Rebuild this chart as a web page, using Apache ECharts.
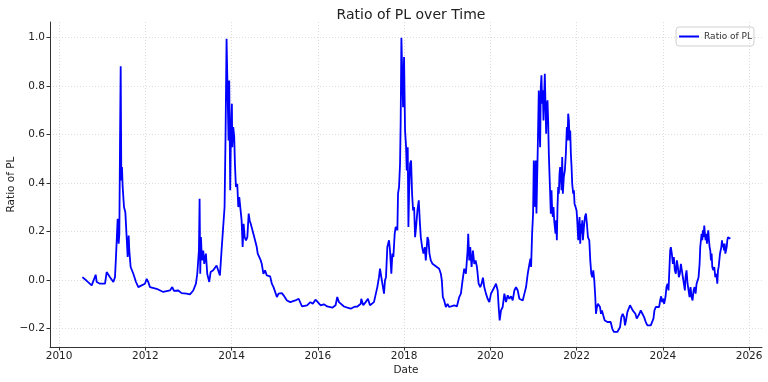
<!DOCTYPE html>
<html>
<head>
<meta charset="utf-8">
<script src="https://cdn.jsdelivr.net/npm/echarts@6/dist/echarts.min.js"></script>
<style>
  html, body { margin: 0; padding: 0; background: #fff; }
  #chart { width: 768px; height: 382px; }
</style>
</head>
<body>
<div id="chart"></div>
<script>
// decimal years and the ratio
var dates = [
    2010.541, 2010.641, 2010.757, 2010.849, 2010.873, 2010.950, 2011.066, 2011.104, 2011.181, 2011.259,
    2011.297, 2011.320, 2011.359, 2011.382, 2011.398, 2011.413, 2011.429, 2011.444, 2011.459, 2011.475,
    2011.506, 2011.537, 2011.568, 2011.591, 2011.614, 2011.629, 2011.660, 2011.722, 2011.784, 2011.838,
    2011.915, 2011.954, 2011.992, 2012.031, 2012.069, 2012.108, 2012.263, 2012.417, 2012.571, 2012.625,
    2012.664, 2012.764, 2012.842, 2012.958, 2013.035, 2013.112, 2013.174, 2013.205, 2013.243, 2013.259,
    2013.274, 2013.290, 2013.313, 2013.344, 2013.367, 2013.405, 2013.436, 2013.483, 2013.514, 2013.575,
    2013.653, 2013.691, 2013.730, 2013.768, 2013.807, 2013.838, 2013.861, 2013.884, 2013.915, 2013.930,
    2013.946, 2013.969, 2013.985, 2014.008,
    2014.016, 2014.039, 2014.062, 2014.078, 2014.101, 2014.132, 2014.156, 2014.179, 2014.210, 2014.233,
    2014.257, 2014.280, 2014.304, 2014.335, 2014.366, 2014.397, 2014.420, 2014.444, 2014.475, 2014.506,
    2014.545, 2014.584, 2014.607, 2014.646, 2014.677, 2014.700, 2014.739, 2014.778, 2014.817, 2014.856,
    2014.895, 2014.934, 2014.973, 2015.019, 2015.051, 2015.089, 2015.128, 2015.167, 2015.206, 2015.284,
    2015.362, 2015.479, 2015.556, 2015.634, 2015.751, 2015.829, 2015.883, 2015.946, 2016.000, 2016.062,
    2016.140, 2016.218, 2016.335, 2016.412, 2016.451, 2016.490, 2016.529, 2016.607, 2016.685, 2016.763,
    2016.840, 2016.918, 2016.996,
    2017.008, 2017.054, 2017.109, 2017.163, 2017.209, 2017.240, 2017.302, 2017.341, 2017.380, 2017.419,
    2017.442, 2017.473, 2017.512, 2017.535, 2017.558, 2017.581, 2017.612, 2017.651, 2017.674, 2017.705,
    2017.729, 2017.752, 2017.783, 2017.806, 2017.845, 2017.860, 2017.884, 2017.907, 2017.922, 2017.938,
    2017.961, 2017.977, 2018.000, 2018.023, 2018.047, 2018.062, 2018.085, 2018.101, 2018.116, 2018.140,
    2018.163, 2018.186, 2018.209, 2018.233, 2018.256, 2018.279, 2018.310, 2018.341, 2018.364, 2018.388,
    2018.419, 2018.450, 2018.481, 2018.504, 2018.543, 2018.566, 2018.589, 2018.620, 2018.659, 2018.698,
    2018.760, 2018.814, 2018.853, 2018.876, 2018.899, 2018.930, 2018.969, 2019.008, 2019.047, 2019.085,
    2019.163, 2019.225, 2019.279, 2019.318, 2019.357, 2019.395, 2019.434, 2019.473, 2019.488, 2019.512,
    2019.535, 2019.566, 2019.597, 2019.628, 2019.659, 2019.690, 2019.729, 2019.767, 2019.798, 2019.829,
    2019.860, 2019.899, 2019.938, 2019.977, 2020.016, 2020.054, 2020.093, 2020.132, 2020.171, 2020.194,
    2020.217, 2020.248, 2020.287, 2020.326, 2020.364, 2020.403, 2020.442, 2020.481, 2020.519, 2020.558,
    2020.597, 2020.636, 2020.674, 2020.713, 2020.752, 2020.791, 2020.829, 2020.868, 2020.907, 2020.930,
    2020.946, 2020.969, 2020.992, 2021.008,
    2021.023, 2021.039, 2021.054, 2021.070, 2021.085, 2021.101, 2021.124, 2021.140, 2021.155, 2021.171,
    2021.186, 2021.202, 2021.217, 2021.233, 2021.248, 2021.264, 2021.279, 2021.295, 2021.310, 2021.326,
    2021.341, 2021.357, 2021.372, 2021.388, 2021.403, 2021.419, 2021.434, 2021.450, 2021.465, 2021.481,
    2021.496, 2021.512, 2021.527, 2021.543, 2021.558, 2021.574, 2021.589, 2021.605, 2021.620, 2021.636,
    2021.651, 2021.667, 2021.682, 2021.705, 2021.729, 2021.752, 2021.775, 2021.791, 2021.806, 2021.822,
    2021.837, 2021.853, 2021.868, 2021.884, 2021.899, 2021.922, 2021.938, 2021.953, 2021.977, 2022.000,
    2022.016, 2022.039, 2022.054, 2022.070, 2022.085, 2022.101, 2022.116, 2022.132, 2022.147, 2022.171,
    2022.194, 2022.217, 2022.240, 2022.264, 2022.295, 2022.318, 2022.341, 2022.364, 2022.388, 2022.411,
    2022.434, 2022.450, 2022.473, 2022.496, 2022.519, 2022.543, 2022.566, 2022.589, 2022.620, 2022.651,
    2022.682, 2022.713, 2022.752, 2022.791, 2022.829, 2022.868, 2022.907, 2022.946, 2022.984, 2023.008,
    2023.039, 2023.070, 2023.101, 2023.124, 2023.147, 2023.178, 2023.209, 2023.240, 2023.271, 2023.302,
    2023.333, 2023.364, 2023.395, 2023.426, 2023.457, 2023.488, 2023.527, 2023.566, 2023.605, 2023.643,
    2023.682, 2023.721, 2023.760, 2023.783, 2023.806, 2023.837, 2023.876, 2023.915, 2023.938, 2023.961,
    2023.984, 2024.008, 2024.031, 2024.062, 2024.085, 2024.109, 2024.132, 2024.155, 2024.171, 2024.186,
    2024.209, 2024.233, 2024.256, 2024.279, 2024.302, 2024.326, 2024.349, 2024.372, 2024.395, 2024.419,
    2024.442, 2024.465, 2024.488, 2024.512, 2024.527, 2024.550, 2024.574, 2024.597, 2024.620, 2024.643,
    2024.667, 2024.690, 2024.713, 2024.736, 2024.760, 2024.783, 2024.806, 2024.829, 2024.853, 2024.868,
    2024.884, 2024.899, 2024.915, 2024.930, 2024.946, 2024.961, 2024.977, 2024.992, 2025.008, 2025.023,
    2025.039, 2025.054, 2025.070, 2025.085, 2025.101, 2025.116, 2025.132, 2025.147, 2025.171, 2025.194,
    2025.217, 2025.240, 2025.264, 2025.279, 2025.295, 2025.310, 2025.326, 2025.341, 2025.357, 2025.372,
    2025.388, 2025.403, 2025.419, 2025.434, 2025.450, 2025.465, 2025.481, 2025.496, 2025.512, 2025.527,
    2025.550, 2025.566
];

var ratio = [
    0.012, -0.003, -0.022, 0.022, -0.008, -0.015, -0.015, 0.033, 0.012, -0.008,
    0.012, 0.095, 0.253, 0.150, 0.191, 0.555, 0.882, 0.411, 0.466, 0.384,
    0.301, 0.280, 0.274, 0.095, 0.184, 0.122, 0.054, 0.026, -0.008, -0.029,
    -0.022, -0.029, -0.015, 0.005, -0.008, -0.029, -0.036, -0.049, -0.043, -0.029,
    -0.045, -0.043, -0.054, -0.056, -0.059, -0.043, -0.015, 0.026, 0.122, 0.335,
    0.026, 0.177, 0.081, 0.122, 0.067, 0.109, 0.026, -0.008, 0.033, 0.040,
    0.060, 0.054, 0.019, 0.122, 0.122, 0.301, 0.597, 0.995, 0.995, 0.576,
    0.823, 0.370, 0.603, 0.727,
    0.548, 0.631, 0.590, 0.480, 0.384, 0.397, 0.301, 0.342, 0.287, 0.246,
    0.136, 0.232, 0.177, 0.164, 0.177, 0.274, 0.246, 0.232, 0.212, 0.191,
    0.164, 0.136, 0.109, 0.102, 0.081, 0.067, 0.026, 0.040, 0.019, 0.012,
    0.015, -0.015, -0.029, -0.036, -0.070, -0.056, -0.063, -0.054, -0.063, -0.084,
    -0.091, -0.084, -0.077, -0.109, -0.104, -0.091, -0.098, -0.081, -0.091, -0.104,
    -0.100, -0.109, -0.114, -0.104, -0.070, -0.091, -0.098, -0.109, -0.114, -0.118,
    -0.111, -0.109, -0.098,
    -0.077, -0.104, -0.091, -0.077, -0.104, -0.111, -0.091, -0.084, -0.029, 0.012,
    0.047, 0.012, 0.005, -0.056, -0.001, 0.012, 0.136, 0.164, 0.122, 0.026,
    0.109, 0.095, 0.191, 0.219, 0.205, 0.356, 0.384, 0.480, 0.658, 0.999,
    0.999, 0.713, 0.920, 0.617, 0.548, 0.452, 0.548, 0.219, 0.356, 0.480,
    0.493, 0.356, 0.287, 0.301, 0.177, 0.219, 0.287, 0.329, 0.246, 0.177,
    0.136, 0.109, 0.136, 0.081, 0.177, 0.164, 0.109, 0.081, 0.067, 0.074,
    0.054, 0.047, 0.026, -0.001, -0.070, -0.084, -0.111, -0.098, -0.111, -0.109,
    -0.104, -0.109, -0.070, -0.056, -0.001, 0.047, 0.026, 0.122, 0.191, 0.081,
    0.136, 0.054, 0.122, 0.067, 0.081, 0.054, -0.015, -0.029, -0.015, 0.010,
    -0.029, -0.056, -0.077, -0.091, -0.056, -0.043, -0.029, -0.015, -0.043, -0.111,
    -0.166, -0.125, -0.111, -0.056, -0.091, -0.063, -0.077, -0.067, -0.084, -0.043,
    -0.029, -0.043, -0.077, -0.084, -0.084, -0.056, -0.029, 0.026, 0.067, 0.088,
    0.054, 0.191, 0.274, 0.493,
    0.384, 0.301, 0.493, 0.274, 0.411, 0.548, 0.782, 0.631, 0.548, 0.796,
    0.844, 0.727, 0.782, 0.658, 0.755, 0.851, 0.727, 0.603, 0.713, 0.741,
    0.658, 0.521, 0.438, 0.356, 0.274, 0.370, 0.287, 0.260, 0.301, 0.246,
    0.219, 0.191, 0.246, 0.164, 0.301, 0.384, 0.356, 0.438, 0.466, 0.425,
    0.370, 0.507, 0.356, 0.425, 0.452, 0.521, 0.631, 0.576, 0.686, 0.658,
    0.576, 0.617, 0.521, 0.466, 0.397, 0.356, 0.370, 0.315, 0.301, 0.287,
    0.246, 0.164, 0.219, 0.260, 0.150, 0.232, 0.191, 0.246, 0.164, 0.219,
    0.260, 0.274, 0.232, 0.177, 0.164, 0.081, 0.026, 0.012, 0.040, -0.001,
    -0.070, -0.139, -0.111, -0.098, -0.091, -0.111, -0.139, -0.125, -0.146, -0.166,
    -0.159, -0.173, -0.166, -0.173, -0.201, -0.214, -0.208, -0.214, -0.214, -0.194,
    -0.153, -0.139, -0.153, -0.187, -0.166, -0.132, -0.125, -0.104, -0.111, -0.125,
    -0.132, -0.139, -0.159, -0.166, -0.139, -0.125, -0.139, -0.153, -0.173, -0.187,
    -0.194, -0.187, -0.180, -0.159, -0.125, -0.111, -0.104, -0.111, -0.084, -0.067,
    -0.091, -0.077, -0.098, -0.070, -0.029, -0.015, -0.043, 0.054, 0.122, 0.136,
    0.109, 0.067, 0.095, 0.040, 0.026, 0.081, 0.054, 0.012, 0.026, 0.067,
    0.040, 0.012, -0.015, -0.043, 0.012, 0.040, -0.015, -0.043, -0.070, -0.029,
    -0.070, -0.084, -0.043, -0.029, -0.056, -0.015, -0.008, 0.012, 0.067, 0.136,
    0.164, 0.191, 0.164, 0.205, 0.177, 0.225, 0.191, 0.164, 0.191, 0.150,
    0.177, 0.205, 0.164, 0.136, 0.122, 0.081, 0.109, 0.054, 0.040, 0.054,
    0.012, 0.026, -0.015, 0.040, 0.054, 0.081, 0.109, 0.122, 0.136, 0.164,
    0.136, 0.150, 0.122, 0.150, 0.109, 0.122, 0.136, 0.164, 0.177, 0.184,
    0.177, 0.170
];

var xTicks = [2010, 2012, 2014, 2016, 2018, 2020, 2022, 2024, 2026];
var yTicks = [-0.2, 0.0, 0.2, 0.4, 0.6, 0.8, 1.0];

var chart = echarts.init(document.getElementById('chart'));
var font = 'DejaVu Sans';
var gridLine = { show: true, lineStyle: { color: '#d4d4d4', width: 0.8, type: [1, 2] } };

var options = {
    animation: false,
    title: {
        text: 'Ratio of PL over Time',
        left: 406,
        textAlign: 'center',
        top: 3,
        textStyle: { fontFamily: font, fontSize: 14, fontWeight: 'normal', color: '#222' }
    },
    legend: {
        data: [{ name: 'Ratio of PL', icon: 'rect' }],
        right: 14,
        top: 27,
        padding: [5, 2, 5, 3],
        itemWidth: 20,
        itemHeight: 2,
        itemGap: 5,
        borderColor: '#d0d0d0',
        borderWidth: 1,
        borderRadius: 3,
        textStyle: { fontFamily: font, fontSize: 9, color: '#333' }
    },
    grid: { left: 50, right: 6, top: 22, bottom: 35, containLabel: false, outerBoundsMode: 'none' },
    xAxis: {
        type: 'value',
        min: 2009.79,
        max: 2026.3,
        name: 'Date',
        nameLocation: 'middle',
        nameGap: 18,
        nameMoveOverlap: false,
        nameTextStyle: { fontFamily: font, fontSize: 10.5, color: '#222' },
        axisLine: { onZero: false, lineStyle: { color: '#333', width: 1 } },
        axisTick: { show: true, length: 3.5, lineStyle: { color: '#333' }, customValues: xTicks },
        axisLabel: {
            customValues: xTicks,
            margin: 4,
            fontFamily: font, fontSize: 10.5, color: '#222',
            formatter: function (v) { return String(Math.round(v)); }
        },
        splitLine: gridLine
    },
    yAxis: {
        type: 'value',
        min: -0.276,
        max: 1.064,
        name: 'Ratio of PL',
        nameLocation: 'middle',
        nameRotate: 90,
        nameGap: 33,
        nameMoveOverlap: false,
        nameTextStyle: { fontFamily: font, fontSize: 10.5, color: '#222' },
        axisLine: { show: true, onZero: false, lineStyle: { color: '#333', width: 1 } },
        axisTick: { show: true, length: 3.5, lineStyle: { color: '#333' }, customValues: yTicks },
        axisLabel: {
            customValues: yTicks,
            margin: 5,
            fontFamily: font, fontSize: 10.5, color: '#222',
            formatter: function (v) { return v.toFixed(1).replace('-', '\u2212'); }
        },
        splitLine: gridLine
    },
    series: [
        {
            name: 'Ratio of PL',
            type: 'line',
            symbol: 'none',
            lineStyle: { color: '#0000ff', width: 1.8 },
            itemStyle: { color: '#0000ff' },
            data: dates.map(function (d, i) { return [d, ratio[i]]; })
        }
    ]
};
chart.setOption(options);
</script>
</body>
</html>
